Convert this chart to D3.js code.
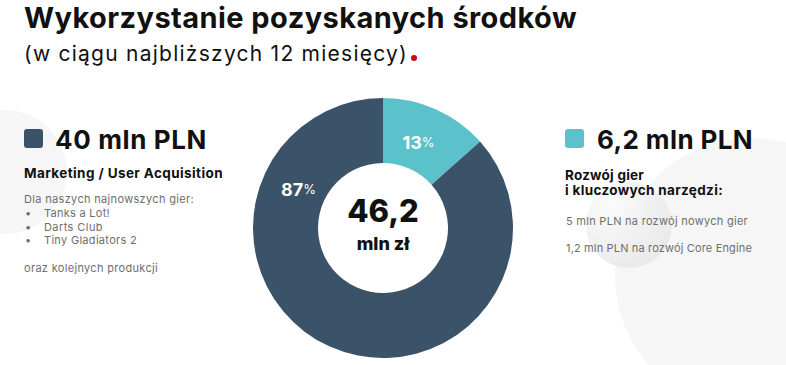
<!DOCTYPE html>
<html><head><meta charset="utf-8">
<script src="https://cdn.jsdelivr.net/npm/d3@7"></script>
<style>
html,body{margin:0;padding:0;background:#fff;}
svg{display:block;font-family:Inter,"Open Sans",sans-serif;}
</style></head>
<body>
<svg id="c" width="786" height="365"></svg>
<script>
// ---- data ----
const categories = ["Rozwój gier i kluczowych narzędzi", "Marketing / User Acquisition"];
const values = [6.2, 40];            // mln PLN
const percentLabels = ["13", "87"];
const sliceColors = ["#5bc1ca", "#3a5368"];
const totalLabel = "46,2";
const totalUnit = "mln zł";
const leftAmount = "40 mln PLN";
const rightAmount = "6,2 mln PLN";
const leftLines = ["Dla naszych najnowszych gier:"];
const leftBullets = ["Tanks a Lot!", "Darts Club", "Tiny Gladiators 2"];
const leftFooter = "oraz kolejnych produkcji";
const rightHeading = ["Rozwój gier", "i kluczowych narzędzi:"];
const rightLines = ["5 mln PLN na rozwój nowych gier", "1,2 mln PLN na rozwój Core Engine"];

const svg = d3.select("#c");

// stretch a text's tracking so it spans the width it has in the original (Poppins is wider)
function fit(sel, width) {
  const n = sel.text().length;
  const w = sel.node().getComputedTextLength();
  sel.attr("letter-spacing", ((width - w) / n).toFixed(3));
  return sel;
}

// decorative background circles
const defs = svg.append("defs");
const g1 = defs.append("radialGradient").attr("id","mid").attr("cx","30%").attr("cy","25%").attr("r","80%");
g1.append("stop").attr("offset","0%").attr("stop-color","#fafafa");
g1.append("stop").attr("offset","100%").attr("stop-color","#e8e8e8");
svg.append("circle").attr("cx",5).attr("cy",172).attr("r",62).attr("fill","#f6f6f6");
svg.append("circle").attr("cx",752).attr("cy",275).attr("r",137).attr("fill","#f6f6f6");
svg.append("circle").attr("cx",629).attr("cy",225).attr("r",43).attr("fill","url(#mid)").attr("opacity",0.9);

// title
fit(svg.append("text").attr("x",24).attr("y",28).attr("font-size",29).attr("font-weight",700)
  .attr("fill","#111").text("Wykorzystanie pozyskanych środków"), 553);
const sub = fit(svg.append("text").attr("x",24).attr("y",61).attr("font-size",21).attr("font-weight",400)
  .attr("fill","#111").text("(w ciągu najbliższych 12 miesięcy)"), 384);
svg.append("circle").attr("cx",414).attr("cy",58).attr("r",3).attr("fill","#d0021b");

// donut
const cx = 383, cy = 228, rOuter = 130, rInner = 65;
const pie = d3.pie().sort(null).value(d => d)(values);
const arc = d3.arc().innerRadius(rInner).outerRadius(rOuter);
const g = svg.append("g").attr("transform",`translate(${cx},${cy})`);
g.selectAll("path").data(pie).join("path").attr("d",arc).attr("fill",(d,i)=>sliceColors[i]);

// percent labels
const labelR = 93;
const labelAngle = [d => (d.startAngle + d.endAngle)/2 - 0.03, d => d.endAngle - 1.14];
pie.forEach((d,i) => {
  const a = labelAngle[i](d);
  const x = labelR*Math.sin(a), y = -labelR*Math.cos(a);
  const t = g.append("text").attr("x",x).attr("y",y).attr("text-anchor","middle")
    .attr("dominant-baseline","central").attr("fill","#fff");
  t.append("tspan").attr("font-size",18).attr("font-weight",700).text(percentLabels[i]);
  t.append("tspan").attr("font-size",13).attr("font-weight",400).text("%");
});

// center text
g.append("text").attr("x",0).attr("y",-6).attr("text-anchor","middle").attr("font-size",31)
  .attr("font-weight",800).attr("fill","#111").text(totalLabel);
g.append("text").attr("x",0).attr("y",22).attr("text-anchor","middle").attr("font-size",18)
  .attr("font-weight",800).attr("fill","#111").text(totalUnit);

// left panel
const grey = "#6e6e6e";
svg.append("rect").attr("x",24).attr("y",129).attr("width",19).attr("height",19).attr("rx",3)
  .attr("fill",sliceColors[1]);
fit(svg.append("text").attr("x",55).attr("y",149).attr("font-size",26).attr("font-weight",700)
  .attr("fill","#111").text(leftAmount), 152);
fit(svg.append("text").attr("x",24).attr("y",178).attr("font-size",13.5).attr("font-weight",700)
  .attr("fill","#111").text(categories[1]), 199);
fit(svg.append("text").attr("x",24).attr("y",203).attr("font-size",11).attr("fill",grey).text(leftLines[0]), 170);
const bulletW = [66, 59, 93];
leftBullets.forEach((b,i)=>{
  const y = 217 + i*13.6;
  svg.append("text").attr("x",25).attr("y",y).attr("font-size",11).attr("fill",grey).text("•");
  fit(svg.append("text").attr("x",44).attr("y",y).attr("font-size",11).attr("fill",grey).text(b), bulletW[i]);
});
fit(svg.append("text").attr("x",24).attr("y",272).attr("font-size",11).attr("fill",grey).text(leftFooter), 134);

// right panel
svg.append("rect").attr("x",565).attr("y",129).attr("width",19).attr("height",19).attr("rx",3)
  .attr("fill",sliceColors[0]);
fit(svg.append("text").attr("x",597).attr("y",149).attr("font-size",26).attr("font-weight",700)
  .attr("fill","#111").text(rightAmount), 156);
const headW = [79, 158];
rightHeading.forEach((t,i)=>{
  fit(svg.append("text").attr("x",565).attr("y",180+i*14.5).attr("font-size",13.5).attr("font-weight",700)
    .attr("fill","#111").text(t), headW[i]);
});
const lineW = [182, 186];
rightLines.forEach((t,i)=>{
  fit(svg.append("text").attr("x",566).attr("y",225+i*27).attr("font-size",11).attr("fill",grey).text(t), lineW[i]);
});
</script>
</body></html>
